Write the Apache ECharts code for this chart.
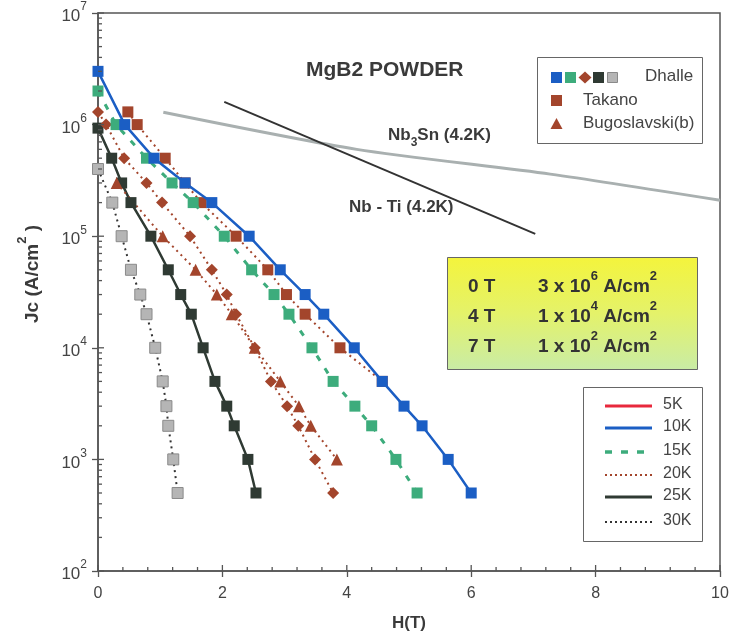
<!DOCTYPE html>
<html>
<head>
<meta charset="utf-8">
<script src="https://cdn.jsdelivr.net/npm/echarts@6/dist/echarts.min.js"></script>
<style>
html, body { margin: 0; padding: 0; background: #fff; }
#chart { width: 736px; height: 642px; }
</style>
</head>
<body>
<div id="chart"></div>
<script>
// ---- axis ticks ----
const xTickLabels = [0, 2, 4, 6, 8, 10];
const yDecades = [2, 3, 4, 5, 6, 7];

// ---- MgB2 powder, Dhalle ----
const h10 = [0, 0.43, 0.9, 1.4, 1.83, 2.43, 2.93, 3.33, 3.63, 4.12, 4.57, 4.92, 5.21, 5.63, 6.0];
const jc10 = [3e6, 1e6, 5e5, 3e5, 2e5, 1e5, 5e4, 3e4, 2e4, 1e4, 5e3, 3e3, 2e3, 1e3, 5e2];

const h15 = [0, 0.29, 0.78, 1.19, 1.53, 2.03, 2.47, 2.83, 3.07, 3.44, 3.78, 4.13, 4.4, 4.79, 5.13];
const jc15 = [2e6, 1e6, 5e5, 3e5, 2e5, 1e5, 5e4, 3e4, 2e4, 1e4, 5e3, 3e3, 2e3, 1e3, 5e2];

const h20 = [0, 0.13, 0.42, 0.78, 1.03, 1.48, 1.83, 2.07, 2.22, 2.52, 2.78, 3.04, 3.22, 3.49, 3.78];
const jc20 = [1.3e6, 1e6, 5e5, 3e5, 2e5, 1e5, 5e4, 3e4, 2e4, 1e4, 5e3, 3e3, 2e3, 1e3, 5e2];

const h25 = [0, 0.22, 0.38, 0.53, 0.85, 1.13, 1.33, 1.5, 1.69, 1.88, 2.07, 2.19, 2.41, 2.54];
const jc25 = [9.3e5, 5e5, 3e5, 2e5, 1e5, 5e4, 3e4, 2e4, 1e4, 5e3, 3e3, 2e3, 1e3, 5e2];

const h30 = [0, 0.23, 0.38, 0.53, 0.68, 0.78, 0.92, 1.04, 1.1, 1.13, 1.21, 1.28];
const jc30 = [4e5, 2e5, 1e5, 5e4, 3e4, 2e4, 1e4, 5e3, 3e3, 2e3, 1e3, 5e2];

// ---- Takano (20 K) ----
const hTakano = [0.48, 0.63, 1.08, 1.4, 1.66, 2.22, 2.73, 3.03, 3.33, 3.89, 4.57];
const jcTakano = [1.3e6, 1e6, 5e5, 3e5, 2e5, 1e5, 5e4, 3e4, 2e4, 1e4, 5e3];

// ---- Bugoslavski(b) (20 K) ----
const hBugo = [0.3, 1.04, 1.57, 1.91, 2.15, 2.52, 2.93, 3.23, 3.42, 3.84];
const jcBugo = [3e5, 1e5, 5e4, 3e4, 2e4, 1e4, 5e3, 3e3, 2e3, 1e3];

// ---- conventional conductors at 4.2 K ----
const hNb3Sn = [1.05, 4.16, 7.27, 10];
const jcNb3Sn = [1.29e6, 6.0e5, 3.6e5, 2.1e5];
const hNbTi = [2.03, 7.03];
const jcNbTi = [1.6e6, 1.05e5];

// ---- field summary ----
const summaryField = ['0 T', '4 T', '7 T'];
const summaryMantissa = [3, 1, 1];
const summaryExponent = [6, 4, 2];

const pairs = (xs, ys) => xs.map((x, i) => [x, ys[i]]);

const C = {
  red: '#e8283c',
  blue: '#1b5ec4',
  green: '#3dac7c',
  brown: '#a3452c',
  dark: '#2f3a33',
  grayFill: '#b5b5b5',
  grayEdge: '#8a8a8a',
  nb3sn: '#a9b0b0',
  axis: '#555',
  text: '#3a3a3a'
};

// minor / inside tick marks for both axes
const xInsideTicks = [];
for (let i = 0; i <= 25; i++) xInsideTicks.push([i * 0.4, 100, i % 5 === 0 ? 1 : 0]);
const yInsideTicks = [];
yDecades.forEach(function (e) {
  const base = Math.pow(10, e);
  yInsideTicks.push([0, base, 1]);
  if (e < 7) for (let k = 2; k <= 9; k++) yInsideTicks.push([0, k * base, 0]);
});

function tickSeries(data, vertical) {
  return {
    type: 'custom',
    silent: true,
    z: 5,
    data: data,
    renderItem: function (params, api) {
      const p = api.coord([api.value(0), api.value(1)]);
      const len = api.value(2) ? 6 : 4;
      const shape = vertical
        ? { x1: p[0], y1: p[1], x2: p[0], y2: p[1] - len }
        : { x1: p[0], y1: p[1], x2: p[0] + len, y2: p[1] };
      return { type: 'line', shape: shape, style: { stroke: C.axis, lineWidth: 1.3 } };
    }
  };
}

const FONT = '"Liberation Sans", Arial, sans-serif';

const chart = echarts.init(document.getElementById('chart'), null, { renderer: 'canvas' });

const boxRich = {
  c: { fontFamily: FONT, fontSize: 19, fontWeight: 'bold', fill: '#333', lineHeight: 26, verticalAlign: 'bottom', width: 70 },
  a: { fontFamily: FONT, fontSize: 19, fontWeight: 'bold', fill: '#333', lineHeight: 26, verticalAlign: 'bottom' },
  s: { fontFamily: FONT, fontSize: 13, fontWeight: 'bold', fill: '#333', verticalAlign: 'top' }
};

const option = {
  backgroundColor: '#fff',
  animation: false,
  grid: {
    left: 98, right: 16, top: 13, bottom: 71,
    show: true, borderColor: C.axis, borderWidth: 1.5, backgroundColor: 'transparent'
  },
  xAxis: {
    type: 'value',
    min: 0, max: 10, interval: 2,
    name: 'H(T)',
    nameLocation: 'middle',
    nameGap: 44,
    nameTextStyle: { fontFamily: FONT, fontSize: 17, fontWeight: 'bold', color: C.text },
    axisLine: { show: true, lineStyle: { color: C.axis, width: 1.5 } },
    axisTick: { show: true, inside: false, length: 6, lineStyle: { color: C.axis, width: 1.3 } },
    axisLabel: {
      margin: 15, fontFamily: FONT, fontSize: 16, color: '#444',
      formatter: function (v) { return xTickLabels.indexOf(v) >= 0 ? String(v) : ''; }
    },
    splitLine: { show: false }
  },
  yAxis: {
    type: 'log',
    logBase: 10,
    min: 100, max: 1e7,
    name: '{a|Jc (A/cm}{s|2}{a| )}',
    nameLocation: 'middle',
    nameRotate: 90,
    nameGap: 56,
    nameTextStyle: {
      fontFamily: FONT, fontWeight: 'bold', color: C.text,
      padding: [0, 0, 0, 36],
      rich: {
        a: { fontFamily: FONT, fontSize: 19, fontWeight: 'bold', color: C.text, lineHeight: 26, verticalAlign: 'bottom' },
        s: { fontFamily: FONT, fontSize: 13, fontWeight: 'bold', color: C.text, verticalAlign: 'top' }
      }
    },
    axisLine: { show: true, lineStyle: { color: C.axis, width: 1.5 } },
    axisTick: { show: true, inside: false, length: 6, lineStyle: { color: C.axis, width: 1.3 } },
    axisLabel: {
      margin: 11,
      formatter: function (v) {
        const e = Math.round(Math.log10(v));
        return yDecades.indexOf(e) >= 0 ? '{b|10}{s|' + e + '}' : '';
      },
      rich: {
        b: { fontFamily: FONT, fontSize: 17, color: '#444', lineHeight: 24, verticalAlign: 'bottom' },
        s: { fontFamily: FONT, fontSize: 12, color: '#444', verticalAlign: 'top' }
      }
    },
    splitLine: { show: false },
    minorTick: { show: false }
  },
  series: [
    {
      name: 'Nb3Sn (4.2K)', type: 'line', data: pairs(hNb3Sn, jcNb3Sn),
      smooth: 0.25, showSymbol: false, z: 2,
      lineStyle: { color: C.nb3sn, width: 3 }
    },
    {
      name: 'Nb - Ti (4.2K)', type: 'line', data: pairs(hNbTi, jcNbTi),
      showSymbol: false, z: 2,
      lineStyle: { color: '#333', width: 2 }
    },
    {
      name: '30K', type: 'line', data: pairs(h30, jc30),
      symbol: 'rect', symbolSize: 11, z: 3,
      lineStyle: { color: '#333', width: 2, type: [2, 4] },
      itemStyle: { color: C.grayFill, borderColor: C.grayEdge, borderWidth: 1 }
    },
    {
      name: '25K', type: 'line', data: pairs(h25, jc25),
      symbol: 'rect', symbolSize: 11, z: 3,
      lineStyle: { color: C.dark, width: 2.5 },
      itemStyle: { color: C.dark }
    },
    {
      name: 'Bugoslavski(b)', type: 'line', data: pairs(hBugo, jcBugo),
      symbol: 'triangle', symbolSize: 12, z: 3,
      lineStyle: { color: C.brown, width: 2, type: [2, 4] },
      itemStyle: { color: C.brown }
    },
    {
      name: '20K', type: 'line', data: pairs(h20, jc20),
      symbol: 'diamond', symbolSize: 12, z: 3,
      lineStyle: { color: C.brown, width: 2, type: [2, 4] },
      itemStyle: { color: C.brown }
    },
    {
      name: 'Takano', type: 'line', data: pairs(hTakano, jcTakano),
      symbol: 'rect', symbolSize: 11, z: 3,
      lineStyle: { color: C.brown, width: 2, type: [2, 4] },
      itemStyle: { color: C.brown }
    },
    {
      name: '15K', type: 'line', data: pairs(h15, jc15),
      symbol: 'rect', symbolSize: 11, z: 4,
      lineStyle: { color: C.green, width: 3, type: [6, 9] },
      itemStyle: { color: C.green }
    },
    {
      name: '10K', type: 'line', data: pairs(h10, jc10),
      symbol: 'rect', symbolSize: 11, z: 4,
      lineStyle: { color: C.blue, width: 2.5 },
      itemStyle: { color: C.blue }
    },
    tickSeries(xInsideTicks, true),
    tickSeries(yInsideTicks, false)
  ],
  graphic: [
    // title
    {
      type: 'text', left: 306, top: 60, z: 10,
      style: { text: 'MgB2 POWDER', fontFamily: FONT, fontSize: 21, fontWeight: 'bold', fill: C.text }
    },
    // conductor labels
    {
      type: 'text', left: 388, top: 127, z: 10,
      style: {
        text: '{a|Nb}{s|3}{a|Sn (4.2K)}',
        rich: {
          a: { fontFamily: FONT, fontSize: 17, fontWeight: 'bold', fill: C.text, lineHeight: 22, verticalAlign: 'top' },
          s: { fontFamily: FONT, fontSize: 12, fontWeight: 'bold', fill: C.text, verticalAlign: 'bottom' }
        }
      }
    },
    {
      type: 'text', left: 349, top: 199, z: 10,
      style: { text: 'Nb - Ti (4.2K)', fontFamily: FONT, fontSize: 17, fontWeight: 'bold', fill: C.text }
    },
    // sample legend
    {
      type: 'rect', z: 10,
      shape: { x: 537.5, y: 57.5, width: 165, height: 86 },
      style: { fill: '#fff', stroke: '#666', lineWidth: 1 }
    },
    { type: 'rect', z: 11, shape: { x: 551, y: 72, width: 11, height: 11 }, style: { fill: C.blue } },
    { type: 'rect', z: 11, shape: { x: 565, y: 72, width: 11, height: 11 }, style: { fill: C.green } },
    { type: 'polygon', z: 11, shape: { points: [[585, 71.5], [591.5, 77.5], [585, 83.5], [578.5, 77.5]] }, style: { fill: C.brown } },
    { type: 'rect', z: 11, shape: { x: 593, y: 72, width: 11, height: 11 }, style: { fill: C.dark } },
    { type: 'rect', z: 11, shape: { x: 607.5, y: 72.5, width: 10, height: 10 }, style: { fill: C.grayFill, stroke: C.grayEdge, lineWidth: 1 } },
    { type: 'text', z: 11, left: 645, top: 68, style: { text: 'Dhalle', fontFamily: FONT, fontSize: 17, fill: '#444' } },
    { type: 'rect', z: 11, shape: { x: 551, y: 95, width: 11, height: 11 }, style: { fill: C.brown } },
    { type: 'text', z: 11, left: 583, top: 92, style: { text: 'Takano', fontFamily: FONT, fontSize: 17, fill: '#444' } },
    { type: 'polygon', z: 11, shape: { points: [[556.5, 118], [562.5, 129], [550.5, 129]] }, style: { fill: C.brown } },
    { type: 'text', z: 11, left: 583, top: 115, style: { text: 'Bugoslavski(b)', fontFamily: FONT, fontSize: 17, fill: '#444' } },
    // field summary box
    {
      type: 'rect', z: 10,
      shape: { x: 447.5, y: 257.5, width: 250, height: 112 },
      style: {
        stroke: '#666', lineWidth: 1,
        fill: new echarts.graphic.LinearGradient(0, 0, 0, 1, [
          { offset: 0, color: '#f4f43c' },
          { offset: 0.5, color: '#e4f26a' },
          { offset: 1, color: '#c9eca6' }
        ])
      }
    },
    {
      type: 'group', z: 11,
      children: summaryField.map(function (f, i) {
        return {
          type: 'text', z: 11, left: 468, top: 270 + i * 30,
          style: {
            text: '{c|' + f + '}{a|' + summaryMantissa[i] + ' x 10}{s|' + summaryExponent[i] + '}{a| A/cm}{s|2}',
            rich: boxRich
          }
        };
      })
    },
    // temperature legend
    {
      type: 'rect', z: 10,
      shape: { x: 583.5, y: 387.5, width: 119, height: 154 },
      style: { fill: '#fff', stroke: '#666', lineWidth: 1 }
    },
    {
      type: 'group', z: 11,
      children: [
        ['5K', 406, C.red, 3, null],
        ['10K', 428, C.blue, 3, null],
        ['15K', 452, C.green, 3.5, [7, 9]],
        ['20K', 475, C.brown, 1.8, [2, 3]],
        ['25K', 497, C.dark, 3, null],
        ['30K', 522, '#333', 1.8, [2, 3]]
      ].reduce(function (acc, r) {
        acc.push({
          type: 'line', z: 11,
          shape: { x1: 605, y1: r[1], x2: 652, y2: r[1] },
          style: { stroke: r[2], lineWidth: r[3], lineDash: r[4] }
        });
        acc.push({
          type: 'text', z: 11, left: 663, top: r[1] - 9,
          style: { text: r[0], fontFamily: FONT, fontSize: 16, fill: '#444' }
        });
        return acc;
      }, [])
    }
  ]
};

chart.setOption(option);
</script>
</body>
</html>
